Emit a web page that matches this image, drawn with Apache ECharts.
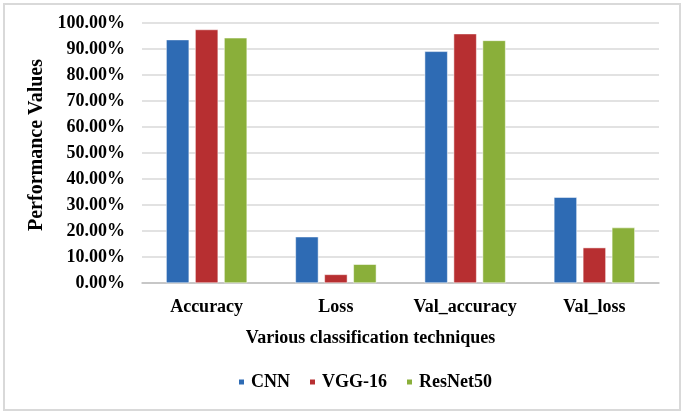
<!DOCTYPE html>
<html>
<head>
<meta charset="utf-8">
<script src="https://cdn.jsdelivr.net/npm/echarts@6/dist/echarts.min.js"></script>
<style>
html,body{margin:0;padding:0;background:#fff;}
#frame{position:absolute;left:3px;top:3px;width:674px;height:404px;border:2px solid #d9d9d9;}
#chart{position:absolute;left:0;top:0;width:683px;height:413px;}
</style>
</head>
<body>
<div id="frame"></div>
<div id="chart"></div>
<script>
const categories = ['Accuracy', 'Loss', 'Val_accuracy', 'Val_loss'];
const seriesNames = ['CNN', 'VGG-16', 'ResNet50'];
const cnnValues = [93.6, 17.8, 89.1, 33.0];
const vggValues = [97.5, 3.3, 95.9, 13.6];
const resnetValues = [94.3, 7.2, 93.3, 21.3];
const colors = ['#2E6BB4', '#B72F31', '#8AAF3A'];

const font = 'Liberation Serif';
const chart = echarts.init(document.getElementById('chart'), null, {renderer: 'canvas'});
const dataSets = [cnnValues, vggValues, resnetValues];
chart.setOption({
  animation: false,
  backgroundColor: 'transparent',
  textStyle: {fontFamily: font},
  grid: {left: 142, right: 24, top: 23, bottom: 130},
  legend: {
    data: seriesNames,
    left: 232, top: 368,
    itemWidth: 7, itemHeight: 7, itemGap: 18,
    icon: 'rect',
    textStyle: {fontFamily: font, fontWeight: 'bold', fontSize: 18, color: '#000', padding: [0,0,0,1]}
  },
  xAxis: {
    type: 'category',
    data: categories,
    axisTick: {show: false},
    axisLine: {lineStyle: {color: '#bfbfbf', width: 1.5}},
    axisLabel: {interval: 0, fontFamily: font, fontWeight: 'bold', fontSize: 18, color: '#000', margin: 15},
    name: 'Various classification techniques',
    nameLocation: 'middle',
    nameGap: 46,
    nameTextStyle: {fontFamily: font, fontWeight: 'bold', fontSize: 18, color: '#000', padding: [0, 60, 0, 0]}
  },
  yAxis: {
    type: 'value',
    min: 0, max: 100, interval: 10,
    axisLine: {show: false},
    axisTick: {show: false},
    splitLine: {lineStyle: {color: '#d9d9d9', width: 1.5}},
    axisLabel: {fontFamily: font, fontWeight: 'bold', fontSize: 18, color: '#000', margin: 17,
      formatter: v => v.toFixed(2) + '%'},
    name: 'Performance Values',
    nameLocation: 'middle',
    nameGap: 86,
    nameTextStyle: {fontFamily: font, fontWeight: 'bold', fontSize: 20, color: '#000', padding: [0, 0, 0, 16]}
  },
  series: seriesNames.map((n, i) => ({
    name: n,
    type: 'bar',
    data: dataSets[i],
    barWidth: 23,
    barGap: '26%',
    itemStyle: {color: colors[i], borderColor: '#ffffff', borderWidth: 0.5}
  }))
});
</script>
</body>
</html>
